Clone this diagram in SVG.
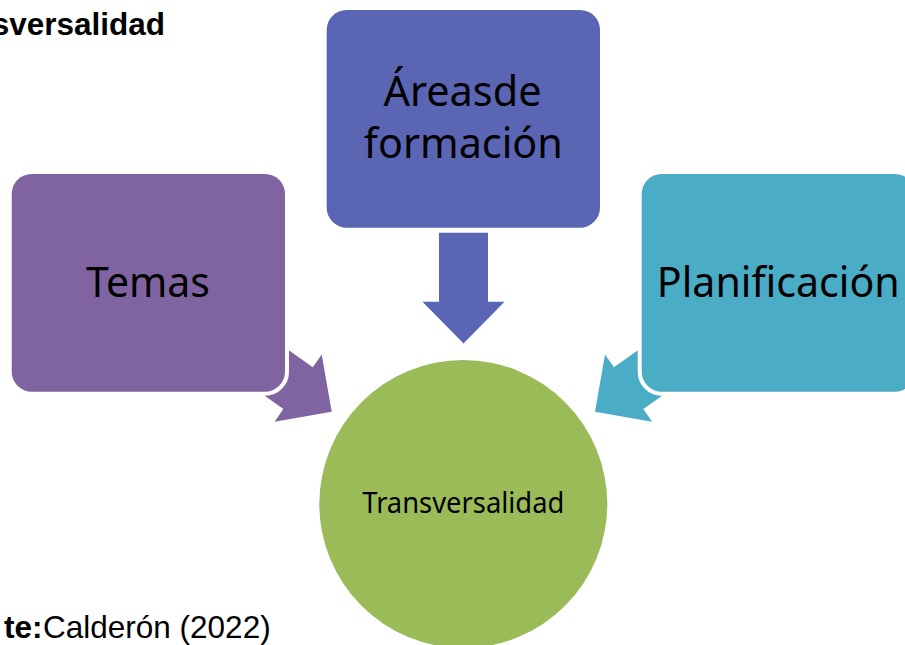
<svg xmlns="http://www.w3.org/2000/svg" width="905" height="645" viewBox="0 0 905 645">
  <style>
    .box { stroke: #ffffff; stroke-width: 8; paint-order: stroke; }
    .lbl { font-family: "Noto Sans", "Open Sans", sans-serif; fill: #000000; text-anchor: middle; }
    .cap { font-family: "Liberation Sans", Arial, sans-serif; font-size: 31.5px; fill: #000000; }
  </style>
  <rect x="0" y="0" width="905" height="645" fill="#ffffff"/>
  <g id="title">
    <text class="cap" x="165" y="35" text-anchor="end" font-weight="bold">sversalidad</text>
  </g>
  <g id="source">
    <text class="cap" x="42.5" y="638.3" text-anchor="end" font-weight="bold">te:</text>
    <text class="cap" x="43" y="638.3">Calderón (2022)</text>
  </g>
  <g id="connectors">
    <polygon id="arrow-temas" fill="#8064A2" points="263.7,332.6 312.8,367.2 321.7,354.5 331.7,411.7 274.5,421.7 283.4,409.0 234.3,374.4"/>
    <polygon id="arrow-planificacion" fill="#4BACC6" points="663,332.6 613.9,367.2 605,354.5 595,411.7 652.2,421.7 643.3,409.0 692.4,374.4"/>
    <polygon id="arrow-areas" fill="#5A66B4" points="439,232.7 488,232.7 488,301.7 504.5,301.7 463.5,343.5 422.5,301.7 439,301.7"/>
  </g>
  <g id="node-areas">
    <rect class="box" x="326.7" y="10" width="273.3" height="217.7" rx="20" fill="#5A66B4"/>
    <text class="lbl" x="462.5" y="106" font-size="42" textLength="158" lengthAdjust="spacingAndGlyphs">Áreasde</text>
    <text class="lbl" x="463.3" y="158.3" font-size="42" textLength="199" lengthAdjust="spacingAndGlyphs">formación</text>
  </g>
  <g id="node-temas">
    <rect class="box" x="11.7" y="174" width="273.3" height="217.7" rx="20" fill="#8064A2"/>
    <text class="lbl" x="148" y="296.7" font-size="42" textLength="124" lengthAdjust="spacingAndGlyphs">Temas</text>
  </g>
  <g id="node-planificacion">
    <rect class="box" x="641.7" y="174" width="273.3" height="217.7" rx="20" fill="#4BACC6"/>
    <text class="lbl" x="778.3" y="296.7" font-size="42" textLength="243" lengthAdjust="spacingAndGlyphs">Planificación</text>
  </g>
  <g id="node-transversalidad">
    <circle cx="463.3" cy="504" r="144" fill="#9BBB59"/>
    <text class="lbl" x="463.3" y="512.7" font-size="29" textLength="202" lengthAdjust="spacingAndGlyphs">Transversalidad</text>
  </g>
</svg>
